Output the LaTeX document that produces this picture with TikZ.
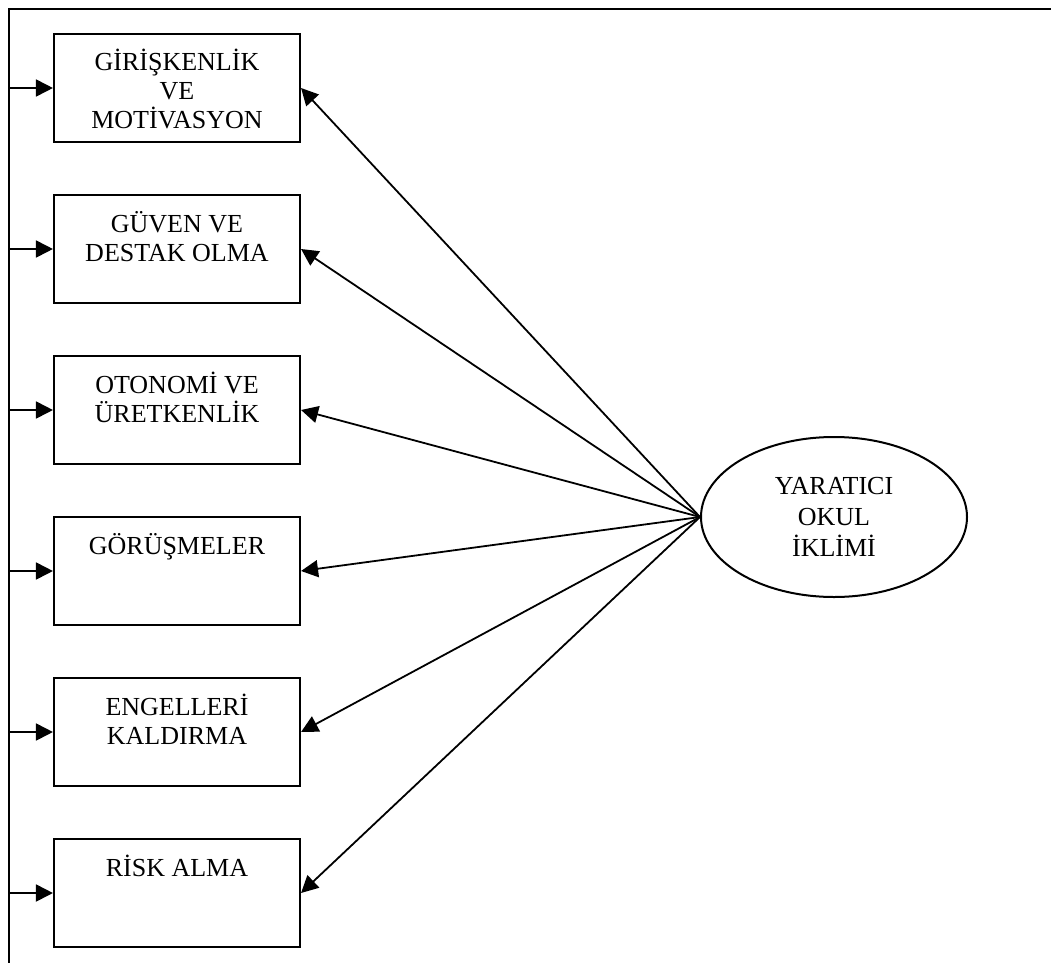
\documentclass[tikz,border=0pt]{standalone}
\usepackage{fontspec}
\setmainfont{Liberation Serif}
\usetikzlibrary{shapes.geometric,arrows.meta}

% text block of a factor box: top aligned, first baseline 37pt below the top edge
\newcommand{\boxtext}[1]{\parbox[c][108pt][t]{246pt}{\centering\fontsize{26}{29}\selectfont\rule{0pt}{37pt}#1}}

\tikzset{
  factor/.style={draw, line width=2.1pt, minimum width=246pt, minimum height=108pt, inner sep=0pt},
  climate/.style={draw, ellipse, line width=2pt, minimum width=266pt, minimum height=160pt, inner sep=0pt,
    align=center, font=\fontsize{26}{31}\selectfont},
  link/.style={line width=1.8pt, -{Triangle[length=17pt, width=17pt]}},
  frame/.style={line width=2.3pt},
}

\begin{document}
\begin{tikzpicture}[x=1pt, y=1pt]
  \useasboundingbox (0,0) rectangle (1051,-963);

  % frame: top rule and left spine
  \coordinate (corner) at (9,-9);
  \coordinate (topend) at (1051,-9);
  \coordinate (spineend) at (9,-963);
  \draw[frame] (topend) -- (corner) -- (spineend);

  % factor boxes
  \node[factor] (b1) at (177,-88)  {\boxtext{GİRİŞKENLİK\\VE\\MOTİVASYON}};
  \node[factor] (b2) at (177,-249) {\boxtext{GÜVEN VE\\DESTAK OLMA}};
  \node[factor] (b3) at (177,-410) {\boxtext{OTONOMİ VE\\ÜRETKENLİK}};
  \node[factor] (b4) at (177,-571) {\boxtext{GÖRÜŞMELER}};
  \node[factor] (b5) at (177,-732) {\boxtext{ENGELLERİ\\KALDIRMA}};
  \node[factor] (b6) at (177,-893) {\boxtext{RİSK ALMA}};

  % latent construct
  \node[climate] (y) at (834,-517) {YARATICI\\OKUL\\İKLİMİ};

  % arrows from the spine into the boxes, and from the construct to the boxes
  \foreach \b in {b1,b2,b3,b4,b5,b6} {
    \draw[link] (\b.west -| corner) -- (\b.west);
    \draw[link] (y.west) -- (\b.east);
  }
\end{tikzpicture}
\end{document}
